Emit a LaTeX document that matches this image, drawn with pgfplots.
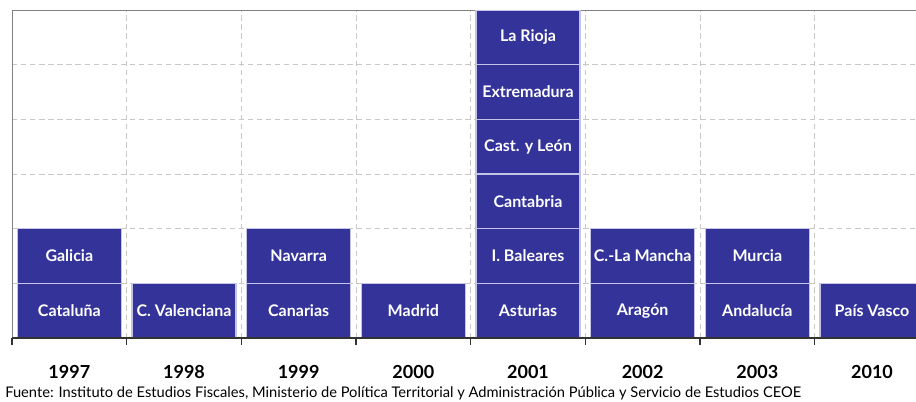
\documentclass[border=0pt]{standalone}
\usepackage{fontspec}
\setmainfont{Lato}
\usepackage{pgfplots}
\pgfplotsset{compat=1.18}
\usetikzlibrary{calc}
\definecolor{barBlue}{HTML}{333399}
\definecolor{barEdge}{HTML}{C4C4E6}
\definecolor{gridGray}{HTML}{C8C8C8}

\begin{document}
\begin{tikzpicture}
\begin{axis}[
  scale only axis,
  width=688pt, height=246pt,
  xmin=-0.5, xmax=7.5,
  ymin=0, ymax=6,
  axis line style={gray, line width=0.75pt},
  xtick pos=bottom,
  ytick pos=left,
  xtick={0,...,7},
  xticklabels={1997,1998,1999,2000,2001,2002,2003,2010},
  x tick label style={font=\fontsize{13.5}{15}\selectfont\bfseries, yshift=-17pt},
  major tick length=0pt,
  minor xtick={-0.5,0.5,...,7.5},
  minor x tick style={black!80, line width=0.8pt},
  minor tick length=5pt,
  tick align=outside,
  xminorgrids=true,
  ytick={1,...,6},
  yticklabels={},
  ymajorgrids=true,
  grid style={gridGray, line width=0.75pt, dash pattern=on 4pt off 2.8pt},
  minor grid style={gridGray, line width=0.75pt, dash pattern=on 4pt off 2.8pt},
  clip=true,
]
% columns: 0=1997 1=1998 2=1999 3=2000 4=2001 5=2002 6=2003 7=2010
% cumulative height of each stacked block, tallest first
\addplot[ybar, bar width=78pt, fill=barBlue, draw=barEdge, line width=0.8pt]
  coordinates {(4,6)};
\addplot[ybar, bar width=78pt, fill=barBlue, draw=barEdge, line width=0.8pt]
  coordinates {(4,5)};
\addplot[ybar, bar width=78pt, fill=barBlue, draw=barEdge, line width=0.8pt]
  coordinates {(4,4)};
\addplot[ybar, bar width=78pt, fill=barBlue, draw=barEdge, line width=0.8pt]
  coordinates {(4,3)};
\addplot[ybar, bar width=78pt, fill=barBlue, draw=barEdge, line width=0.8pt]
  coordinates {(0,2)(2,2)(4,2)(5,2)(6,2)};
\addplot[ybar, bar width=78pt, fill=barBlue, draw=barEdge, line width=0.8pt]
  coordinates {(0,1)(1,1)(2,1)(3,1)(4,1)(5,1)(6,1)(7,1)};

% block names
\addplot[draw=none, nodes near coords, point meta=explicit symbolic,
  nodes near coords style={anchor=center, text=white,
    font=\fontsize{12}{14}\selectfont\bfseries}]
  coordinates {
    (0,0.5)[Cataluña] (1,0.5)[C. Valenciana] (2,0.5)[Canarias]
    (3,0.5)[Madrid] (4,0.5)[Asturias] (5,0.5)[Aragón]
    (6,0.5)[Andalucía] (7,0.5)[País Vasco]
    (0,1.5)[Galicia] (2,1.5)[Navarra] (4,1.5)[I. Baleares]
    (5,1.5)[C.-La Mancha] (6,1.5)[Murcia]
    (4,2.5)[Cantabria] (4,3.5)[Cast. y León]
    (4,4.5)[Extremadura] (4,5.5)[La Rioja]
  };

% darker baseline
\draw[black!80, line width=1pt] (rel axis cs:0,0) -- (rel axis cs:1,0);
\coordinate (O) at (rel axis cs:0,0);
\end{axis}

\node[anchor=base west, font=\fontsize{11}{13}\selectfont, inner sep=0pt]
  at ($(O)+(-5.25pt,-44.5pt)$)
  {Fuente: Instituto de Estudios Fiscales, Ministerio de Política Territorial y Administración Pública y Servicio de Estudios CEOE};

\pgfresetboundingbox
\path[use as bounding box] ($(O)+(-9pt,-47.25pt)$) rectangle ++(687pt,300.75pt);
\end{tikzpicture}
\end{document}
